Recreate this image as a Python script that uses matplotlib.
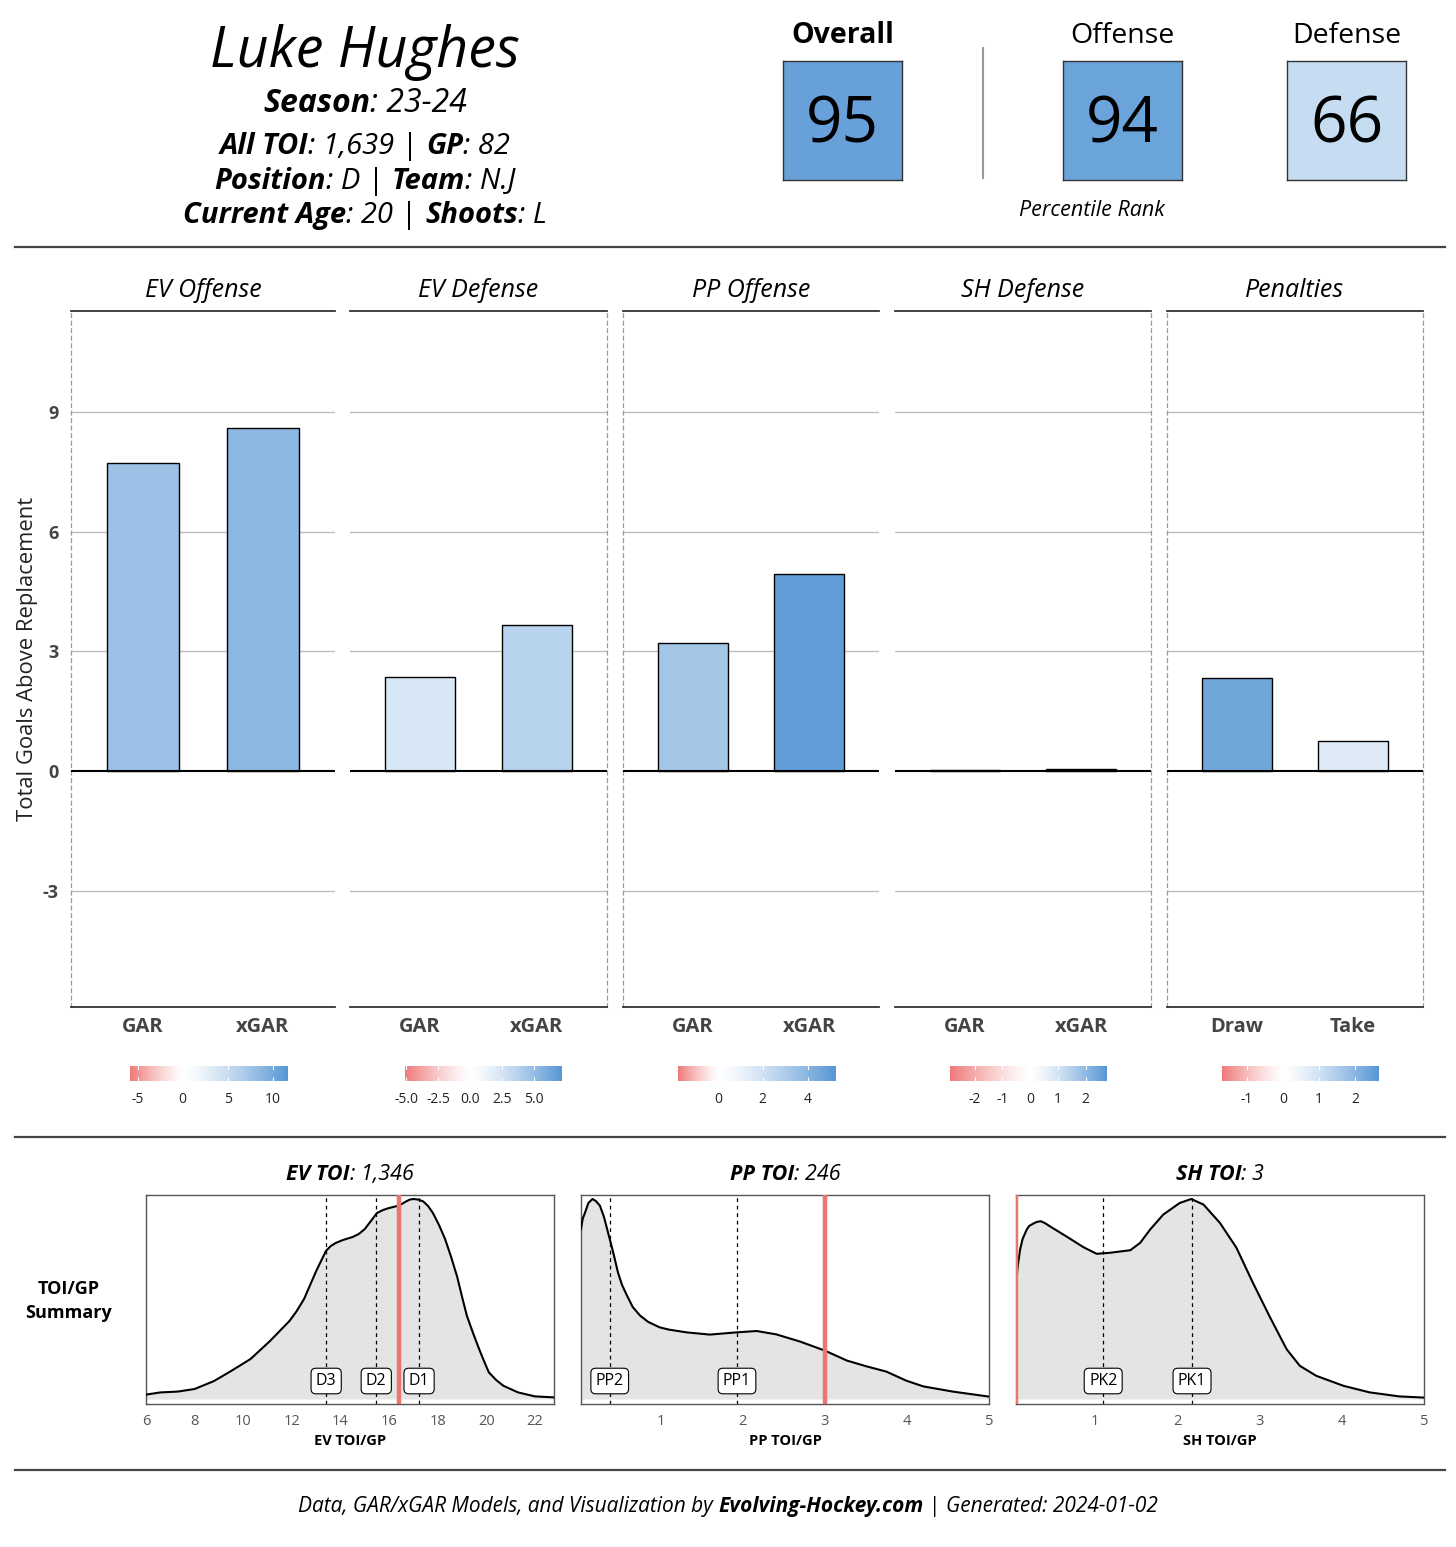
import matplotlib
matplotlib.use("Agg")
import matplotlib.pyplot as plt
import numpy as np
from matplotlib.colors import LinearSegmentedColormap, TwoSlopeNorm, to_rgb
from matplotlib.lines import Line2D
from matplotlib.transforms import blended_transform_factory

plt.rcParams["font.family"] = ["Open Sans", "DejaVu Sans"]
plt.rcParams["axes.unicode_minus"] = False

# ---- data -------------------------------------------------------------
season = "23-24"
all_toi = "1,639"
games = 82
position = "D"
team = "N.J"
age = 20
shoots = "L"

pct_names = ["Overall", "Offense", "Defense"]
pct_values = [95, 94, 66]

panel_names = ["EV Offense", "EV Defense", "PP Offense", "SH Defense", "Penalties"]
bar_labels = [["GAR", "xGAR"], ["GAR", "xGAR"], ["GAR", "xGAR"], ["GAR", "xGAR"], ["Draw", "Take"]]
ev_offense = [7.72, 8.60]
ev_defense = [2.36, 3.66]
pp_offense = [3.21, 4.94]
sh_defense = [0.02, 0.05]
penalties = [2.33, 0.75]
bar_values = [ev_offense, ev_defense, pp_offense, sh_defense, penalties]

scale_limits = [(-5.9, 11.5), (-5.1, 7.2), (-1.8, 5.2), (-2.9, 2.75), (-1.7, 2.65)]
scale_ticks = [[-5, 0, 5, 10], [-5, -2.5, 0, 2.5, 5], [0, 2, 4], [-2, -1, 0, 1, 2], [-1, 0, 1, 2]]
scale_labels = [["-5", "0", "5", "10"], ["-5.0", "-2.5", "0.0", "2.5", "5.0"],
                ["0", "2", "4"], ["-2", "-1", "0", "1", "2"], ["-1", "0", "1", "2"]]
y_ticks = [-3, 0, 3, 6, 9]

ev_toi, pp_toi, sh_toi = 1346, 246, 3

# league TOI/GP densities (relative height)
ev_x = [6.0, 6.6, 7.3, 8.0, 8.8, 9.5, 10.3, 11.1, 11.9, 12.2, 12.5, 12.75, 13.0, 13.2, 13.4, 13.6,
        13.8, 14.1, 14.5, 14.75, 15.0, 15.25, 15.5, 15.75, 16.0, 16.4, 16.7, 16.85, 17.0, 17.2, 17.4,
        17.6, 17.8, 18.05, 18.3, 18.55, 18.8, 19.0, 19.2, 19.45, 19.7, 19.9, 20.1, 20.4, 20.7, 21.3,
        22.0, 22.8]
ev_y = [0.022, 0.033, 0.037, 0.05, 0.09, 0.14, 0.20, 0.29, 0.39, 0.44, 0.50, 0.57, 0.64, 0.69, 0.74,
        0.765, 0.78, 0.795, 0.81, 0.825, 0.85, 0.89, 0.93, 0.945, 0.955, 0.967, 0.988, 0.997, 1.0,
        0.997, 0.988, 0.965, 0.93, 0.87, 0.80, 0.71, 0.61, 0.51, 0.415, 0.33, 0.25, 0.19, 0.133,
        0.095, 0.066, 0.033, 0.013, 0.008]
pp_x = [0.03, 0.05, 0.08, 0.12, 0.17, 0.21, 0.26, 0.31, 0.38, 0.43, 0.48, 0.53, 0.59, 0.66, 0.75,
        0.85, 0.99, 1.1, 1.32, 1.60, 1.92, 2.17, 2.41, 2.70, 3.0, 3.27, 3.51, 3.75, 3.99, 4.20, 4.56, 5.0]
pp_y = [0.85, 0.90, 0.933, 0.98, 1.0, 0.99, 0.967, 0.91, 0.80, 0.72, 0.633, 0.57, 0.517, 0.46, 0.417,
        0.385, 0.358, 0.347, 0.333, 0.322, 0.333, 0.34, 0.323, 0.287, 0.242, 0.192, 0.163, 0.137,
        0.092, 0.063, 0.037, 0.012]
sh_x = [0.04, 0.06, 0.09, 0.12, 0.17, 0.20, 0.25, 0.29, 0.34, 0.39, 0.45, 0.66, 0.86, 1.02, 1.18,
        1.43, 1.55, 1.67, 1.83, 2.03, 2.17, 2.32, 2.52, 2.72, 2.92, 3.13, 3.33, 3.49, 3.69, 4.02,
        4.34, 4.70, 5.0]
sh_y = [0.565, 0.66, 0.748, 0.80, 0.847, 0.865, 0.877, 0.885, 0.889, 0.88, 0.864, 0.811, 0.759,
        0.726, 0.731, 0.744, 0.781, 0.847, 0.922, 0.98, 1.0, 0.972, 0.88, 0.756, 0.581, 0.407, 0.249,
        0.166, 0.116, 0.066, 0.033, 0.013, 0.007]

ev_lines, ev_line_labels = [13.41, 15.47, 17.23], ["D3", "D2", "D1"]
pp_lines, pp_line_labels = [0.38, 1.93], ["PP2", "PP1"]
sh_lines, sh_line_labels = [1.10, 2.18], ["PK2", "PK1"]

# ---- layout -----------------------------------------------------------
W, H = 1456, 1547
fig = plt.figure(figsize=(W / 100, H / 100), dpi=100)
renderer = fig.canvas.get_renderer()

# red - white - blue, with perceptual-ish easing away from white
red, blue, white = np.array(to_rgb("#F07A7A")), np.array(to_rgb("#5797D5")), np.ones(3)
steps = np.linspace(0, 1, 21)
stops = [(0.5 - 0.5 * s, white + (red - white) * s ** 1.3) for s in steps[::-1]]
stops += [(0.5 + 0.5 * s, white + (blue - white) * s ** 1.3) for s in steps[1:]]
cmap = LinearSegmentedColormap.from_list("rwb", stops)


def px_axes(x, y, w, h):
    return fig.add_axes([x / W, 1 - (y + h) / H, w / W, h / H])


def rich_text(x, y, parts, size, color="black"):
    """Draw text pieces with mixed weight/style, centred on x with baseline y (pixels)."""
    items = []
    for s, weight, style in parts:
        t = fig.text(0, 1 - y / H, s.strip(), fontsize=size, fontweight=weight,
                     fontstyle=style, va="baseline", ha="left", color=color)
        items.append((t, t.get_window_extent(renderer).width, s.startswith(" ")))
    space = size * 0.27 * 100 / 72
    total = sum(w + (space if lead else 0) for _, w, lead in items)
    cur = x - total / 2
    for t, w, lead in items:
        if lead:
            cur += space
        t.set_x(cur / W)
        cur += w


def hline(y, x0=15, x1=1445, color="#444444", lw=1.6):
    fig.add_artist(Line2D([x0 / W, x1 / W], [1 - y / H, 1 - y / H], color=color, lw=lw))


# ---- header -----------------------------------------------------------
fig.text(365 / W, 1 - 67 / H, "Luke Hughes", fontsize=40, fontstyle="italic",
         ha="center", va="baseline")
rich_text(365, 112, [("Season", "bold", "italic"), (": " + season, "normal", "italic")], 23)
rich_text(365, 154, [("All TOI", "bold", "italic"), (": " + all_toi, "normal", "italic"),
                     (" |", "normal", "normal"), (" GP", "bold", "italic"),
                     (": %d" % games, "normal", "italic")], 21)
rich_text(365, 189, [("Position", "bold", "italic"), (": " + position, "normal", "italic"),
                     (" |", "normal", "normal"), (" Team", "bold", "italic"),
                     (": " + team, "normal", "italic")], 21)
rich_text(365, 223, [("Current Age", "bold", "italic"), (": %d" % age, "normal", "italic"),
                     (" |", "normal", "normal"), (" Shoots", "bold", "italic"),
                     (": " + shoots, "normal", "italic")], 21)

pct_norm = TwoSlopeNorm(vmin=0, vcenter=40, vmax=100)
box_x = [783, 1063, 1287]
for i, (name, val) in enumerate(zip(pct_names, pct_values)):
    ax = px_axes(box_x[i], 61, 119, 119)
    ax.set_facecolor(cmap(pct_norm(val)))
    ax.set_xticks([])
    ax.set_yticks([])
    for sp in ax.spines.values():
        sp.set_color("#333333")
        sp.set_linewidth(1.0)
    ax.text(0.5, 0.46, str(val), ha="center", va="center", fontsize=46, transform=ax.transAxes)
    fig.text((box_x[i] + 59.5) / W, 1 - 43 / H, name, fontsize=20.5,
             fontweight="bold" if i == 0 else "normal", ha="center", va="baseline")
fig.add_artist(Line2D([983 / W, 983 / W], [1 - 48 / H, 1 - 178 / H], color="#999999", lw=1.5))
fig.text(1092 / W, 1 - 216 / H, "Percentile Rank", fontsize=15.5, fontstyle="italic",
         ha="center", va="baseline")

hline(247)

# ---- GAR bar panels ----------------------------------------------------
panel_x = [(71, 335), (350, 607), (623, 879), (895, 1151), (1167, 1423)]
left_dash = [True, False, True, False, True]
right_dash = [False, True, False, True, True]
top_px, bot_px = 311, 1007
for i, name in enumerate(panel_names):
    x0, x1 = panel_x[i]
    ax = px_axes(x0, top_px, x1 - x0, bot_px - top_px)
    lo, hi = scale_limits[i]
    norm = TwoSlopeNorm(vmin=lo, vcenter=0, vmax=hi)
    vals = bar_values[i]
    ax.bar([1, 2], vals, width=0.6, color=[cmap(norm(v)) for v in vals],
           edgecolor="black", linewidth=1.0, zorder=3)
    ax.set_xlim(0.4, 2.6)
    ax.set_ylim(-5.915, 11.53)
    for t in y_ticks:
        if t != 0:
            ax.axhline(t, color="#BEBEBE", lw=1.0, zorder=1)
    ax.axhline(0, color="black", lw=1.5, zorder=4)
    ax.set_xticks([1, 2])
    ax.set_xticklabels(bar_labels[i], fontsize=14.5, fontweight="bold", color="#444444")
    ax.tick_params(axis="x", length=0, pad=7)
    ax.set_yticks(y_ticks)
    if i == 0:
        ax.set_yticklabels([str(t) for t in y_ticks], fontsize=13, fontweight="bold", color="#444444")
        ax.tick_params(axis="y", length=0, pad=9)
    else:
        ax.tick_params(axis="y", length=0, labelleft=False)
    for side in ("top", "bottom"):
        ax.spines[side].set_color("#333333")
        ax.spines[side].set_linewidth(1.3)
    for side, on in (("left", left_dash[i]), ("right", right_dash[i])):
        if on:
            ax.spines[side].set_color("#9A9A9A")
            ax.spines[side].set_linewidth(0.9)
            ax.spines[side].set_linestyle((0, (3, 3)))
        else:
            ax.spines[side].set_visible(False)
    ax.set_title(name, fontsize=18, fontstyle="italic", pad=10)

    # colour legend
    cx = (x0 + x1) / 2 + 5 - 78.5
    cax = px_axes(cx, 1066, 157, 15)
    grad = np.linspace(lo, hi, 300)
    cax.imshow(norm(grad)[None, :], cmap=cmap, aspect="auto", extent=(lo, hi, 0, 1),
               vmin=0, vmax=1)
    cax.set_xlim(lo, hi)
    cax.set_yticks([])
    cax.set_xticks(scale_ticks[i])
    cax.set_xticklabels(scale_labels[i], fontsize=10, color="#222222")
    cax.tick_params(axis="x", direction="in", color="white", length=3, width=0.8, pad=8)
    for t in scale_ticks[i]:
        cax.plot([t, t], [0.8, 1.0], color="white", lw=0.8)
    for sp in cax.spines.values():
        sp.set_visible(False)

fig.text(28 / W, 1 - 659 / H, "Total Goals Above Replacement", rotation=90, fontsize=15.8,
         ha="center", va="center", color="#222222")

hline(1137)

# ---- TOI/GP density panels ---------------------------------------------
fig.text(69 / W, 1 - 1301 / H, "TOI/GP\nSummary", fontsize=13, fontweight="bold",
         ha="center", va="center", linespacing=1.5)

dens = [
    ("EV", ev_x, ev_y, ev_lines, ev_line_labels, ev_toi, (6, 22.78), list(range(6, 23, 2)), 146),
    ("PP", pp_x, pp_y, pp_lines, pp_line_labels, pp_toi, (0.03, 5.0), [1, 2, 3, 4, 5], 581),
    ("SH", sh_x, sh_y, sh_lines, sh_line_labels, sh_toi, (0.04, 5.0), [1, 2, 3, 4, 5], 1016),
]
for tag, xs, ys, lines, labels, toi, xlim, ticks, ax_x in dens:
    ax = px_axes(ax_x, 1195, 408, 209)
    ax.fill_between(xs, 0, ys, color="#E4E4E4", lw=0, zorder=1)
    ax.plot(xs, ys, color="black", lw=1.5, zorder=3, solid_joinstyle="round")
    trans = blended_transform_factory(ax.transData, ax.transAxes)
    for v, lab in zip(lines, labels):
        ax.axvline(v, color="black", lw=0.9, ls=(0, (3, 3)), zorder=2)
        ax.text(v, 0.11, lab, transform=trans, ha="center", va="center", fontsize=11.5,
                zorder=5, bbox=dict(boxstyle="round,pad=0.3,rounding_size=0.3",
                                    fc="white", ec="black", lw=0.8))
    ax.axvline(toi / games, color="#EC7472", lw=3.2, zorder=4)
    ax.set_xlim(*xlim)
    ax.set_ylim(-0.025, 1.02)
    ax.set_yticks([])
    ax.set_xticks(ticks)
    ax.tick_params(axis="x", length=0, pad=7, labelsize=10.5, labelcolor="#555555")
    ax.set_xlabel("%s TOI/GP" % tag, fontsize=10.5, fontweight="bold", labelpad=4)
    for sp in ax.spines.values():
        sp.set_color("#555555")
        sp.set_linewidth(1.0)
    rich_text(ax_x + 204, 1180, [("%s TOI" % tag, "bold", "italic"),
                                 (": {:,}".format(toi), "normal", "italic")], 15.5)

hline(1470)

rich_text(728, 1512, [("Data, GAR/xGAR Models, and Visualization by", "normal", "italic"),
                      (" Evolving-Hockey.com", "bold", "italic"),
                      (" |", "normal", "normal"),
                      (" Generated: 2024-01-02", "normal", "italic")], 15)

fig.savefig("out.png", dpi=100)
